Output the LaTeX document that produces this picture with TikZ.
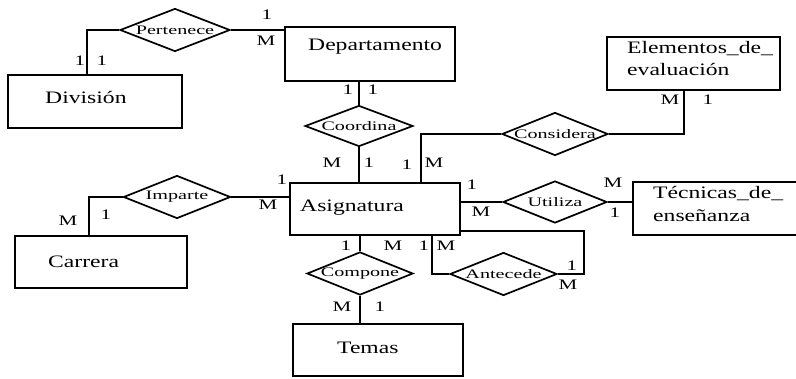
\documentclass[tikz,border=0pt]{standalone}
\usepackage{fontspec}
\usetikzlibrary{shapes.geometric}
\newfontfamily\entfont[FakeStretch=1.35]{Liberation Serif}
\newfontfamily\relfont[FakeStretch=1.55]{Liberation Serif}
\newfontfamily\cardfont[FakeStretch=1.45]{Liberation Serif}
\tikzset{
  ent/.style={draw, line width=1.7pt, inner sep=0pt},
  rel/.style={draw, diamond, line width=1.7pt, inner sep=0pt, minimum width=107pt, minimum height=43pt,
     font=\relfont\fontsize{13}{15}\selectfont},
  etext/.style={anchor=west, inner sep=0pt, align=left, font=\entfont\fontsize{17.5}{22.5}\selectfont},
  card/.style={inner sep=0pt, font=\cardfont\fontsize{14.5}{16}\selectfont},
  conn/.style={line width=1.7pt}
}
\begin{document}
\begin{tikzpicture}[x=1pt,y=-1pt]
\useasboundingbox[fill=white] (0,0) rectangle (796,378);
% entities
\node[ent, minimum width=174pt, minimum height=53pt] (div) at (95,101.5) {};
\node[ent, minimum width=170pt, minimum height=54pt] (dep) at (370,54) {};
\node[ent, minimum width=173pt, minimum height=53pt] (ele) at (693.5,63.5) {};
\node[ent, minimum width=170pt, minimum height=52pt] (asig) at (375,209) {};
\node[ent, minimum width=172pt, minimum height=53pt] (tec) at (719,208.5) {};
\node[ent, minimum width=172pt, minimum height=52pt] (car) at (101,262) {};
\node[ent, minimum width=170pt, minimum height=52pt] (tem) at (378,350) {};
% entity texts
\node[etext] (divT) at (45,97) {División};
\node[etext] (depT) at (308,47) {Departamento};
\node[etext] (eleT) at (627,58.5) {Elementos\_de\_\\evaluación};
\node[etext] (asigT) at (300,208) {Asignatura};
\node[etext] (tecT) at (653,204) {Técnicas\_de\_\\enseñanza};
\node[etext] (carT) at (48,262) {Carrera};
\node[etext] (temT) at (337,348) {Temas};
% relationships
\node[rel, minimum width=110pt] (per) at (175,30) {\makebox[0pt]{Pertenece}};
\node[rel, minimum width=108pt, minimum height=41pt] (coo) at (359,126) {\makebox[0pt]{Coordina}};
\node[rel, minimum width=106pt] (con) at (555,134) {\makebox[0pt]{Considera}};
\node[rel, minimum width=104pt, minimum height=42pt] (uti) at (555,202) {\makebox[0pt]{Utiliza}};
\node[rel] (imp) at (177,197) {\makebox[0pt]{Imparte}};
\node[rel, minimum width=106pt] (com) at (360,273.5) {\makebox[0pt]{Compone}};
\node[rel] (ant) at (503.5,274) {\makebox[0pt]{Antecede}};
% connectors
\draw[conn] (per.west) -| ([xshift=80pt]div.north west);
\draw[conn] (per.east) -- (per.east -| dep.west);
\draw[conn] (coo.north) -- (coo.north |- dep.south);
\draw[conn] (coo.south) -- (coo.south |- asig.north);
\draw[conn] (con.west) -| ([xshift=132pt]asig.north west);
\draw[conn] (con.east) -| ([xshift=78pt]ele.south west);
\draw[conn] (uti.west -| asig.east) -- (uti.west);
\draw[conn] (uti.east) -- (uti.east -| tec.west);
\draw[conn] (imp.west) -| ([xshift=75pt]car.north west);
\draw[conn] (imp.east) -- (imp.east -| asig.west);
\draw[conn] (com.north) -- (com.north |- asig.south);
\draw[conn] (com.south) -- (com.south |- tem.north);
\draw[conn] ([xshift=143pt]asig.south west) |- (ant.west);
\draw[conn] ([yshift=5pt]asig.south east) -- ++(123pt,0pt) |- (ant.east);
% cardinalities
\node[card] (c1) at (80,61) {1};
\node[card] (c2) at (102,61) {1};
\node[card] (c3) at (267,15) {1};
\node[card] (c4) at (266,41) {M};
\node[card] (c5) at (348,90) {1};
\node[card] (c6) at (373,90) {1};
\node[card] (c7) at (332,163) {M};
\node[card] (c8) at (369,163) {1};
\node[card] (c9) at (407,165) {1};
\node[card] (c10) at (434,163) {M};
\node[card] (c11) at (670,100) {M};
\node[card] (c12) at (708,100) {1};
\node[card] (c13) at (68,221) {M};
\node[card] (c14) at (106,215) {1};
\node[card] (c15) at (282,180) {1};
\node[card] (c16) at (268,205) {M};
\node[card] (c17) at (472,185) {1};
\node[card] (c18) at (481,212) {M};
\node[card] (c19) at (613,183) {M};
\node[card] (c20) at (615,213) {1};
\node[card] (c21) at (346,246) {1};
\node[card] (c22) at (393,246) {M};
\node[card] (c23) at (342,307) {M};
\node[card] (c24) at (380,307) {1};
\node[card] (c25) at (424,246) {1};
\node[card] (c26) at (446,246) {M};
\node[card] (c27) at (572,266) {1};
\node[card] (c28) at (568,285) {M};
\end{tikzpicture}
\end{document}
